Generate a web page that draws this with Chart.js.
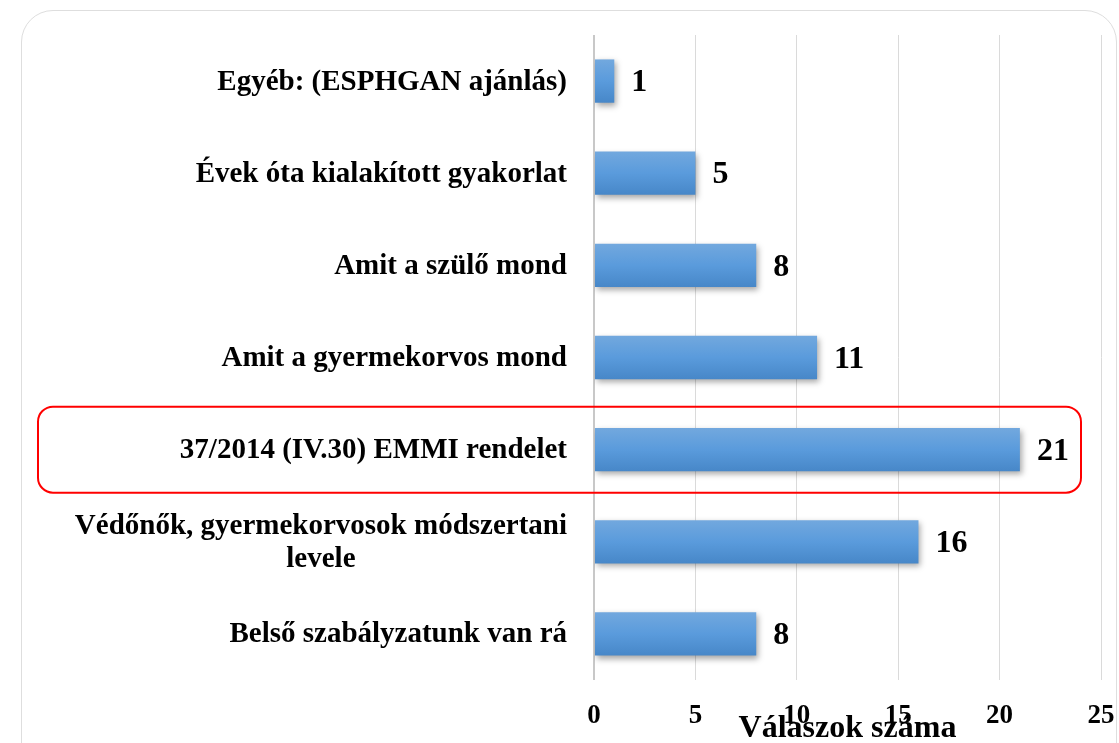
<!DOCTYPE html>
<html>
<head>
<meta charset="utf-8">
<script src="https://cdn.jsdelivr.net/npm/chart.js@4"></script>
<style>
  html, body { margin: 0; padding: 0; background: #fff; overflow: hidden; }
  #wrap { position: relative; width: 1119px; height: 743px; }
  #frame {
    position: absolute; left: 21px; top: 10px; width: 1096px; height: 780px;
    border: 1.5px solid #dedede; border-radius: 32px; box-sizing: border-box;
  }
  canvas { position: absolute; left: 0; top: 0; }
</style>
</head>
<body>
<div id="wrap">
  <div id="frame"></div>
  <canvas id="chart" width="1119" height="743"></canvas>
</div>
<script>
// categories top to bottom, as in the picture
const categories = [
  ["Egyéb: (ESPHGAN ajánlás)"],
  ["Évek óta kialakított gyakorlat"],
  ["Amit a szülő mond"],
  ["Amit a gyermekorvos mond"],
  ["37/2014 (IV.30) EMMI rendelet"],
  ["Védőnők, gyermekorvosok módszertani", "levele"],
  ["Belső szabályzatunk van rá"],
];
const answers = [1, 5, 8, 11, 21, 16, 8];
const xTicks = [0, 5, 10, 15, 20, 25];
const highlighted = 4;
const axisTitle = "Válaszok száma";

const SERIF = "'Liberation Serif', 'Times New Roman', serif";
const BAR_PCT = 0.47;

// vertical gradient per bar, built from the y scale
function barGradient(c) {
  const chart = c.chart;
  const y = chart.scales.y;
  if (!y || c.dataIndex === undefined) return "#5b9bd5";
  const cy = y.getPixelForValue(c.dataIndex);
  const h = (y.height / categories.length) * BAR_PCT;
  if (!isFinite(cy) || !isFinite(h) || h <= 0) return "#5b9bd5";
  const g = chart.ctx.createLinearGradient(0, cy - h / 2, 0, cy + h / 2);
  g.addColorStop(0, "#72a8de");
  g.addColorStop(0.5, "#5a9bdc");
  g.addColorStop(1, "#4787c8");
  return g;
}

// soft shadow under the bars
const barShadow = {
  id: "barShadow",
  beforeDatasetDraw(chart) {
    const ctx = chart.ctx;
    ctx.save();
    ctx.shadowColor = "rgba(0,0,0,0.35)";
    ctx.shadowBlur = 6;
    ctx.shadowOffsetX = 2;
    ctx.shadowOffsetY = 3;
  },
  afterDatasetDraw(chart) {
    chart.ctx.restore();
  },
};

// category labels, value labels, axis title, red highlight box
const extras = {
  id: "extras",
  afterDraw(chart) {
    const ctx = chart.ctx;
    const y = chart.scales.y;
    const area = chart.chartArea;
    ctx.save();
    ctx.fillStyle = "#000";
    ctx.textBaseline = "middle";

    ctx.font = "bold 29px " + SERIF;
    categories.forEach((lines, i) => {
      const cy = y.getPixelForValue(i);
      if (lines.length === 1) {
        ctx.textAlign = "right";
        ctx.fillText(lines[0], 567, cy + 1);
      } else {
        const w = ctx.measureText(lines[0]).width;
        const cx = 567 - w / 2;
        ctx.textAlign = "center";
        const lh = 33;
        lines.forEach((t, k) => {
          ctx.fillText(t, cx, cy + (k - (lines.length - 1) / 2) * lh + 1);
        });
      }
    });

    ctx.font = "bold 32px " + SERIF;
    ctx.textAlign = "left";
    const meta = chart.getDatasetMeta(0);
    meta.data.forEach((bar, i) => {
      ctx.fillText(String(answers[i]), bar.x + 17, bar.y + 2);
    });

    ctx.font = "bold 32px " + SERIF;
    ctx.textAlign = "center";
    ctx.fillText(axisTitle, (area.left + area.right) / 2, area.bottom + 49);

    const hy = y.getPixelForValue(highlighted);
    ctx.strokeStyle = "#ff0000";
    ctx.lineWidth = 2;
    ctx.beginPath();
    ctx.roundRect(38, hy - 43, 1043, 86, 15);
    ctx.stroke();
    ctx.restore();
  },
};

new Chart(document.getElementById("chart"), {
  type: "bar",
  data: {
    labels: categories.map((c) => c.join(" ")),
    datasets: [
      {
        label: axisTitle,
        data: answers,
        backgroundColor: barGradient,
        borderWidth: 0,
        barPercentage: BAR_PCT,
        categoryPercentage: 1,
      },
    ],
  },
  options: {
    indexAxis: "y",
    responsive: false,
    animation: false,
    layout: { padding: { top: 35, right: 18, left: 0, bottom: 0 } },
    plugins: { legend: { display: false }, tooltip: { enabled: false } },
    scales: {
      x: {
        min: 0,
        max: 25,
        afterBuildTicks: (s) => { s.ticks = xTicks.map((v) => ({ value: v })); },
        afterFit: (s) => {
          s.height = 63;
          s.paddingLeft = 0;
          s.paddingRight = 0;
        },
        border: { display: false },
        grid: {
          drawTicks: false,
          color: (c) => (c.tick && c.tick.value === 0 ? "#c8c8c8" : "#dadada"),
          lineWidth: (c) => (c.tick && c.tick.value === 0 ? 2 : 1),
        },
        ticks: {
          padding: 20,
          color: "#000",
          font: { family: SERIF, size: 27, weight: "bold" },
        },
      },
      y: {
        afterFit: (s) => { s.width = 594; },
        border: { display: false },
        grid: { display: false },
        ticks: { display: false },
      },
    },
  },
  plugins: [barShadow, extras],
});
</script>
</body>
</html>
